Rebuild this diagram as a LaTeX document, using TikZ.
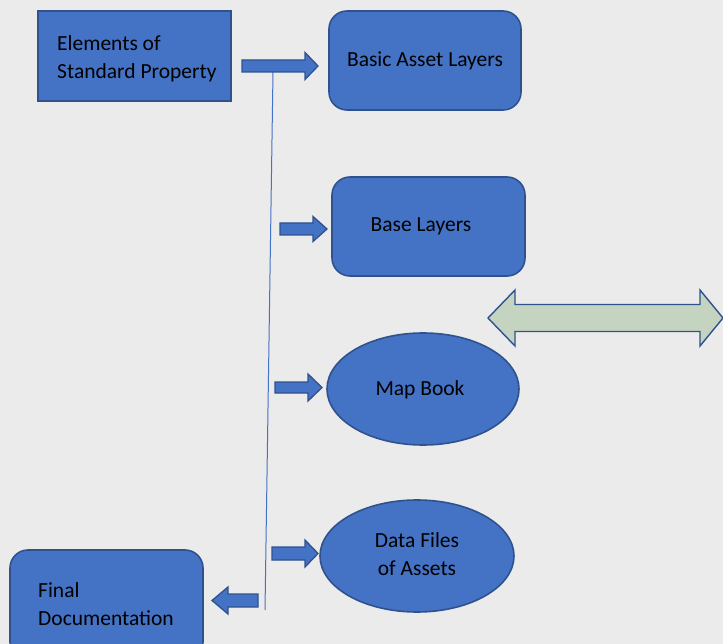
\documentclass[tikz,border=0pt]{standalone}
\usepackage{fontspec}
\setmainfont{Carlito}
\usetikzlibrary{shapes.geometric}
\definecolor{bfill}{HTML}{4472C4}
\definecolor{bline}{HTML}{2F528F}
\definecolor{gfill}{HTML}{C5D4C0}
\definecolor{bg}{HTML}{EBEBEB}
\tikzset{
  shapebox/.style={draw=bline, fill=bfill, line width=1.6pt, inner sep=0pt},
  roundbox/.style={shapebox, rounded corners=18pt},
  blockarrow/.style={draw=bline, fill=bfill, line width=1.3pt, line join=miter},
  txt/.style={font=\fontsize{21.5}{28}\selectfont, text=black, align=left, inner sep=0pt},
  thinline/.style={draw=bfill, line width=1pt}
}
% right-pointing block arrow: x-start, shaft-end x, tip x, centre y, shaft half, head half
\newcommand{\rblockarrow}[6]{%
  \path[blockarrow] (#1,#4-#5) -- (#2,#4-#5) -- (#2,#4-#6) -- (#3,#4) -- (#2,#4+#6) -- (#2,#4+#5) -- (#1,#4+#5) -- cycle;}
\begin{document}
\begin{tikzpicture}[x=1pt,y=-1pt]
\fill[bg] (0,0) rectangle (723,644);
\useasboundingbox (0,0) rectangle (723,644);

% boxes
\path[shapebox] (38,11) rectangle (231,101);
\node[txt, anchor=base west] (elem) at (57,79) {Elements of\\Standard Property};

\path[roundbox] (329,11) rectangle (521,110);
\node[txt] (basic) at (425,61) {Basic Asset Layers};

\path[roundbox] (332,177) rectangle (525,276);
\node[txt] (base) at (421,226) {Base Layers};

\node[shapebox, ellipse, minimum width=192pt, minimum height=112pt] (mapb) at (423,389) {};
\node[txt] at (420,390) {Map Book};

\node[shapebox, ellipse, minimum width=194pt, minimum height=112pt] (dataf) at (417,556) {};
\node[txt, align=center] at (417,554) {Data Files\\of Assets};

\path[roundbox] (10,550) rectangle (203,660);
\node[txt, anchor=base west] (final) at (38,625) {Final\\Documentation};

% thin vertical line
\coordinate (ltop) at (273,72);
\coordinate (lbot) at (265,610);
\draw[thinline] (ltop) -- (lbot);

% block arrows
\rblockarrow{242}{305}{318}{66}{6}{13.5}
\rblockarrow{280}{313}{327}{229}{6}{12.5}
\rblockarrow{275}{308}{322}{387.5}{5.5}{13.5}
\rblockarrow{272}{305}{318}{553.5}{6.5}{13.5}
% left arrow
\path[blockarrow] (258,594) -- (228,594) -- (228,587) -- (212,600.5) -- (228,614) -- (228,607) -- (258,607) -- cycle;

% double arrow
\path[draw=bline, fill=gfill, line width=1.4pt] (488,318) -- (515,290) -- (515,304.5) -- (700,304.5) -- (700,290) -- (723,318) -- (700,346) -- (700,331.5) -- (515,331.5) -- (515,346) -- cycle;
\end{tikzpicture}
\end{document}
